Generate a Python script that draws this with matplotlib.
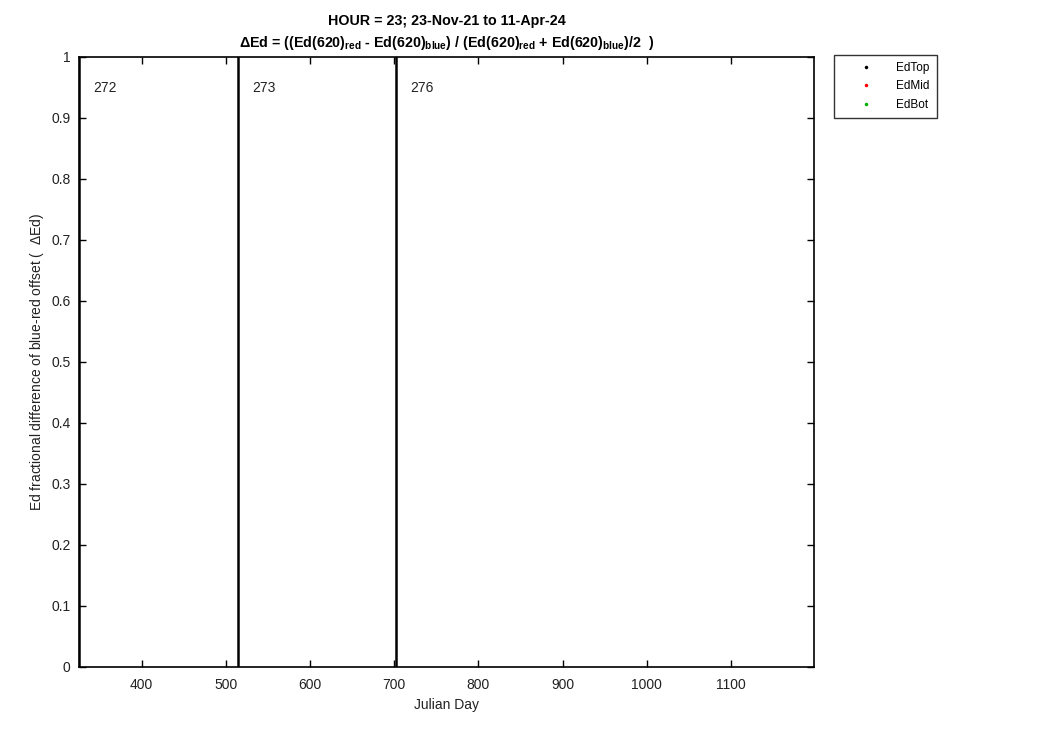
import matplotlib
matplotlib.use("Agg")
import matplotlib.pyplot as plt

plt.rcParams['font.family'] = ['Liberation Sans', 'DejaVu Sans']
plt.rcParams['mathtext.fontset'] = 'custom'
plt.rcParams['mathtext.rm'] = 'Liberation Sans'
plt.rcParams['mathtext.bf'] = 'Liberation Sans:bold'
plt.rcParams['mathtext.it'] = 'Liberation Sans:italic'

# deployment boundaries (Julian day) and their labels
deploy_days = [325.5, 514.7, 701.7]
deploy_labels = ['272', '273', '276']
xlim = [325.5, 1199]
ylim = [0, 1]
xticks = [400, 500, 600, 700, 800, 900, 1000, 1100]
yticks = [0, 0.1, 0.2, 0.3, 0.4, 0.5, 0.6, 0.7, 0.8, 0.9, 1]

# no data for this hour
series = {'EdTop': ([], [], 'k'), 'EdMid': ([], [], 'r'), 'EdBot': ([], [], '#00b000')}

fig = plt.figure(figsize=(10.5, 7.5), dpi=100)
ax = fig.add_axes([0.0752, 0.1107, 0.7003, 0.8133])

handles = []
for name, (x, y, c) in series.items():
    h, = ax.plot(x, y, '.', color=c, markersize=3, label=name)
    handles.append(h)

for d, lab in zip(deploy_days, deploy_labels):
    ax.axvline(d, color='k', linewidth=1.8)
    ax.text(d + 17, 0.949, lab, fontsize=10, va='center', ha='left', color='#222222')

ax.set_xlim(xlim)
ax.set_ylim(ylim)
ax.set_xticks(xticks)
ax.set_yticks(yticks)
ax.set_yticklabels(['0', '0.1', '0.2', '0.3', '0.4', '0.5', '0.6', '0.7', '0.8', '0.9', '1'])
ax.tick_params(direction='in', top=True, right=True, labelsize=10, length=5, width=1,
               labelcolor='#222222')
ax.tick_params(axis='x', pad=8)
ax.tick_params(axis='y', pad=6)
for s in ax.spines.values():
    s.set_linewidth(1.2)

ax.set_xlabel('Julian Day', fontsize=10, labelpad=4, color='#222222')
ax.set_ylabel('Ed fractional difference of blue-red offset (  $\\Delta$Ed)', fontsize=10,
              labelpad=4, color='#222222')

title = ('HOUR = 23; 23-Nov-21 to 11-Apr-24\n'
         '$\\mathbf{\\Delta}$Ed = ((Ed(620)$_\\mathbf{red}$ - Ed(620)$_\\mathbf{blue}$) / '
         '(Ed(620)$_\\mathbf{red}$ + Ed(620)$_\\mathbf{blue}$)/2  )')
ax.set_title(title, fontsize=10.3, fontweight='bold', pad=7, linespacing=1.5)

leg = fig.legend(handles=handles, loc='upper left', bbox_to_anchor=(0.794, 0.927),
                 fontsize=8.5, frameon=True, fancybox=False, edgecolor='k',
                 handlelength=4.2, markerscale=1.0, borderpad=0.6, labelspacing=0.55,
                 handletextpad=0.5, borderaxespad=0)
leg.get_frame().set_linewidth(1.0)

fig.savefig('out.png', dpi=100, facecolor='white')
